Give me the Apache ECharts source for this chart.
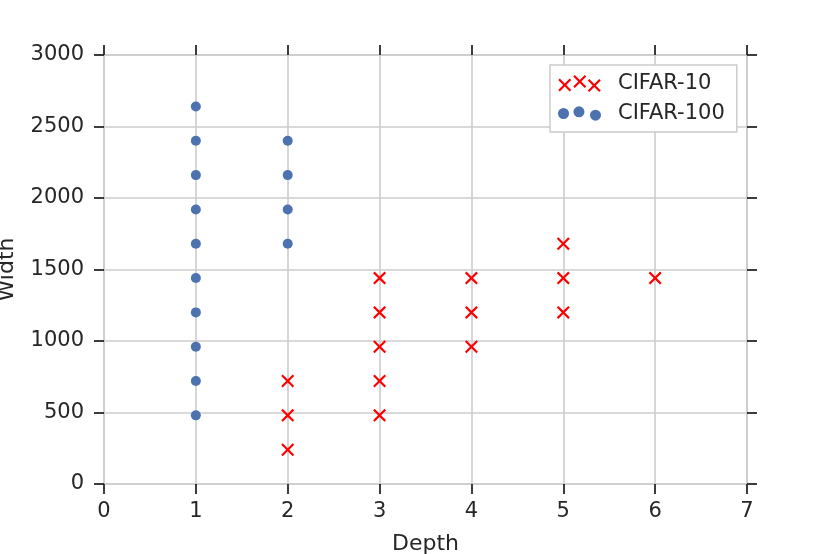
<!DOCTYPE html>
<html>
<head>
<meta charset="UTF-8">
<title>Depth vs Width</title>
<script src="https://cdn.jsdelivr.net/npm/echarts@6/dist/echarts.min.js"></script>
<style>
  html, body { margin: 0; padding: 0; background: #fff; }
</style>
</head>
<body>
<div id="main" style="width: 830px;height:554px;"></div>
<script type="text/javascript">
// data
var seriesNames = ['CIFAR-10', 'CIFAR-100'];
var cifar10Depth = [2, 2, 2, 3, 3, 3, 3, 3, 4, 4, 4, 5, 5, 5, 6];
var cifar10Width = [240, 480, 720, 480, 720, 960, 1200, 1440, 960, 1200, 1440, 1200, 1440, 1680, 1440];
var cifar100Depth = [1, 1, 1, 1, 1, 1, 1, 1, 1, 1, 2, 2, 2, 2];
var cifar100Width = [480, 720, 960, 1200, 1440, 1680, 1920, 2160, 2400, 2640, 1680, 1920, 2160, 2400];
var xTicks = [0, 1, 2, 3, 4, 5, 6, 7];
var yTicks = [0, 500, 1000, 1500, 2000, 2500, 3000];

var textColor = '#262626';
var gridColor = '#cccccc';
var font = 'DejaVu Sans';

// a filled "x" outline centred on (cx, cy)
function crossPath(cx, cy, s, t) {
    var h = s / 2, x0 = cx - h, y0 = cy - h;
    var p = [
        [0, t], [t, 0], [h, h - t], [s - t, 0], [s, t], [h + t, h],
        [s, s - t], [s - t, s], [h, h + t], [t, s], [0, s - t], [h - t, h]
    ];
    return p.map(function (q, i) {
        return (i ? 'L' : 'M') + (x0 + q[0]).toFixed(2) + ',' + (y0 + q[1]).toFixed(2);
    }).join('') + 'Z';
}
function circlePath(cx, cy, r) {
    return 'M' + (cx - r) + ',' + cy + 'a' + r + ',' + r + ' 0 1,0 ' + (2 * r) + ',0' +
        'a' + r + ',' + r + ' 0 1,0 ' + (-2 * r) + ',0Z';
}

var crossSymbol = 'path://' + crossPath(6.5, 6.5, 13, 1.55);
var crossLegend = 'path://' + crossPath(6.5, 9.5, 13, 1.55) + crossPath(21.5, 6, 13, 1.55) + crossPath(36, 10, 13, 1.55);
var dotLegend = 'path://' + circlePath(5, 6.5, 5) + circlePath(19, 5, 5) + circlePath(34, 8, 5);

function zip(xs, ys) {
    return xs.map(function (x, i) { return [x, ys[i]]; });
}

var myChart = echarts.init(document.getElementById('main'));

var tickStyle = { show: true, length: 10, lineStyle: { color: textColor, width: 1.8 } };
var lineStyle = { show: true, onZero: false, lineStyle: { color: gridColor, width: 1.6 } };
var plainLabel = function (v) { return String(v); };

var option = {
    animation: false,
    textStyle: { fontFamily: font, color: textColor },
    grid: { left: 104, right: 83, top: 55, bottom: 70, containLabel: false, outerBoundsMode: 'none' },
    legend: {
        orient: 'vertical',
        left: 550,
        top: 65,
        padding: [8, 12, 8, 8],
        itemGap: 9,
        itemWidth: 43,
        itemHeight: 17,
        borderColor: gridColor,
        borderWidth: 1.5,
        backgroundColor: '#ffffff',
        textStyle: { fontFamily: font, fontSize: 21, color: textColor, lineHeight: 21, padding: [0, 0, 0, 12] },
        data: [
            { name: seriesNames[0], icon: crossLegend },
            { name: seriesNames[1], icon: dotLegend }
        ]
    },
    xAxis: [{
        type: 'value',
        min: xTicks[0],
        max: xTicks[xTicks.length - 1],
        interval: xTicks[1] - xTicks[0],
        name: 'Depth',
        nameLocation: 'middle',
        nameGap: 49,
        nameTextStyle: { fontFamily: font, fontSize: 22, color: textColor },
        axisLine: lineStyle,
        axisTick: tickStyle,
        axisLabel: { fontFamily: font, fontSize: 21, color: textColor, margin: 17, formatter: plainLabel },
        splitLine: lineStyle
    }, {
        type: 'value',
        position: 'top',
        min: xTicks[0],
        max: xTicks[xTicks.length - 1],
        interval: xTicks[1] - xTicks[0],
        axisLine: lineStyle,
        axisTick: tickStyle,
        axisLabel: { show: false },
        splitLine: { show: false }
    }],
    yAxis: [{
        type: 'value',
        min: yTicks[0],
        max: yTicks[yTicks.length - 1],
        interval: yTicks[1] - yTicks[0],
        name: 'Width',
        nameLocation: 'middle',
        nameGap: 86,
        nameTextStyle: { fontFamily: font, fontSize: 22, color: textColor },
        axisLine: lineStyle,
        axisTick: tickStyle,
        axisLabel: { fontFamily: font, fontSize: 21, color: textColor, margin: 20, formatter: plainLabel },
        splitLine: lineStyle
    }, {
        type: 'value',
        position: 'right',
        min: yTicks[0],
        max: yTicks[yTicks.length - 1],
        interval: yTicks[1] - yTicks[0],
        axisLine: lineStyle,
        axisTick: tickStyle,
        axisLabel: { show: false },
        splitLine: { show: false }
    }],
    series: [{
        name: seriesNames[0],
        type: 'scatter',
        symbol: crossSymbol,
        symbolSize: 13,
        itemStyle: { color: '#ff0000', opacity: 1 },
        z: 3,
        data: zip(cifar10Depth, cifar10Width)
    }, {
        name: seriesNames[1],
        type: 'scatter',
        symbol: 'circle',
        symbolSize: 10,
        itemStyle: { color: '#4c72b0', opacity: 1 },
        z: 3,
        data: zip(cifar100Depth, cifar100Width)
    }]
};

myChart.setOption(option);
</script>
</body>
</html>
